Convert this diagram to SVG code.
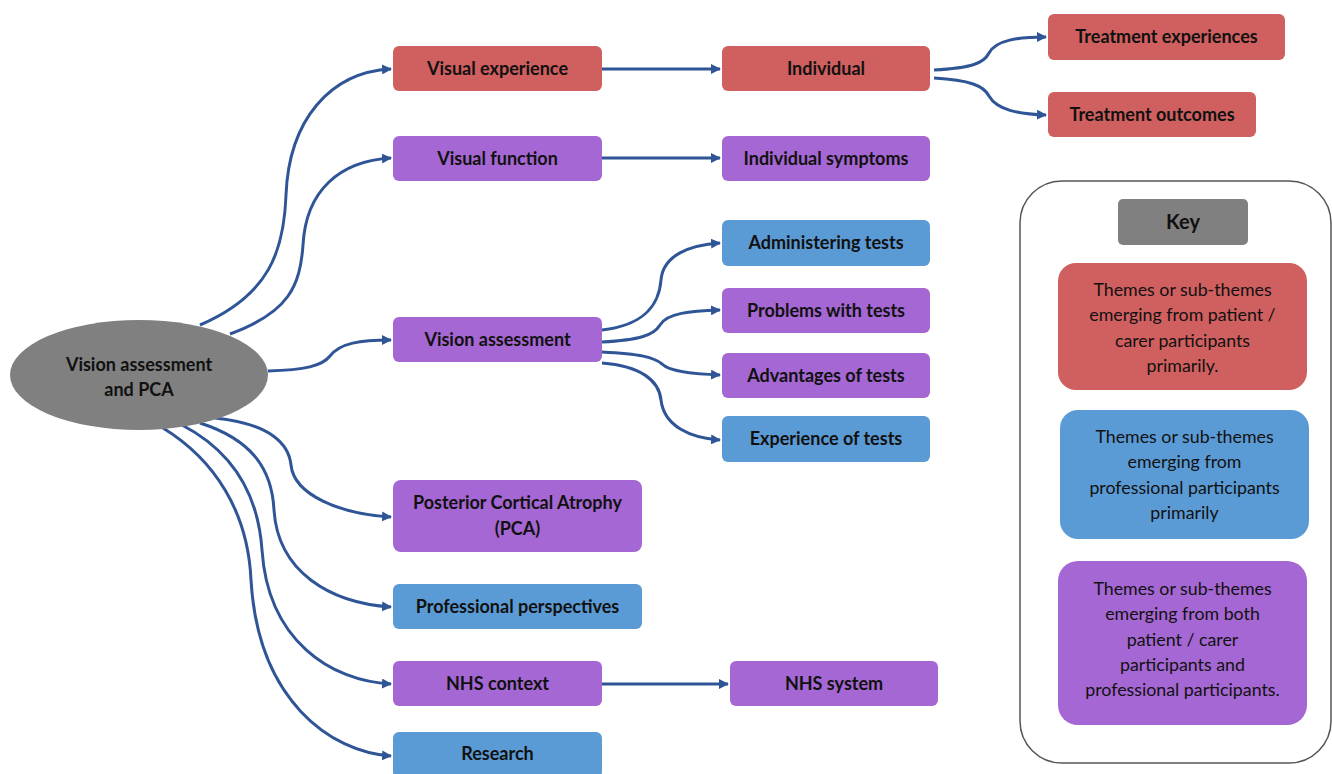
<svg xmlns="http://www.w3.org/2000/svg" width="1332" height="774" viewBox="0 0 1332 774">
<defs>
<marker id="ah" viewBox="0 0 10 10" refX="9" refY="5" markerWidth="10" markerHeight="10" markerUnits="userSpaceOnUse" orient="auto">
<path d="M0,0 L10,5 L0,10 z" fill="#2F5597"/>
</marker>
<style>
.red{fill:#D05F5F}
.pur{fill:#A567D3}
.blu{fill:#5B9BD5}
.gry{fill:#808080}
.lbl{font-family:Lato,"Open Sans","Liberation Sans",sans-serif;font-weight:bold;font-size:18px;fill:#111;text-anchor:middle;dominant-baseline:central}
.key{font-family:Lato,"Open Sans","Liberation Sans",sans-serif;font-size:17.8px;fill:#111;text-anchor:middle;dominant-baseline:central}
.con path{fill:none;stroke:#2F5597;stroke-width:3;marker-end:url(#ah)}
</style>
</defs>
<rect width="1332" height="774" fill="#fff"/>
<g class="con" id="connectors">
<path d="M200,325 C270,295 284,250 286,195 C289,120 330,72 391,69"/>
<path d="M230,334 C290,312 300,285 303,245 C306,190 340,161 391,158"/>
<path d="M268,371 C305,370 322,366 330,356 C340,343 360,340 391,340"/>
<path d="M215,418 C272,424 289,445 291,465 C294,495 340,514 391,517"/>
<path d="M200,423 C253,440 272,470 274,510 C278,572 330,603 391,607"/>
<path d="M182,425 C230,450 258,492 262,550 C268,640 330,681 391,684"/>
<path d="M163,428 C215,460 248,512 251,580 C258,700 330,752 391,756"/>
<path d="M602,69 L720,69"/>
<path d="M602,158 L720,158"/>
<path d="M602,684 L728,684"/>
<path d="M934,70 C972,68 984,63 989,53 C996,40 1018,37 1046,37"/>
<path d="M934,78 C970,80 984,86 989,96 C997,110 1018,114 1046,115"/>
<path d="M602,330 C645,325 659,305 661,280 C663,255 690,245 720,243"/>
<path d="M602,342 C640,340 654,335 660,325 C667,313 690,311 720,310"/>
<path d="M602,352 C640,354 654,357 662,364 C670,372 695,374 720,375"/>
<path d="M602,363 C640,366 659,380 661,400 C664,426 690,438 720,440"/>
</g>
<g id="n-root"><ellipse class="gry" cx="139" cy="375" rx="129" ry="55"/><text class="lbl" x="139" y="364">Vision assessment</text><text class="lbl" x="139" y="389">and PCA</text></g>
<g id="n-visexp"><rect class="red" x="393" y="46" width="209" height="45" rx="6"/><text class="lbl" x="497.5" y="67.5">Visual experience</text></g>
<g id="n-indiv"><rect class="red" x="722" y="46" width="208" height="45" rx="6"/><text class="lbl" x="826" y="67.5">Individual</text></g>
<g id="n-trexp"><rect class="red" x="1048" y="14" width="237" height="46" rx="6"/><text class="lbl" x="1166.5" y="36">Treatment experiences</text></g>
<g id="n-trout"><rect class="red" x="1048" y="92" width="208" height="45" rx="6"/><text class="lbl" x="1152" y="113.5">Treatment outcomes</text></g>
<g id="n-visfun"><rect class="pur" x="393" y="136" width="209" height="45" rx="6"/><text class="lbl" x="497.5" y="157.5">Visual function</text></g>
<g id="n-indsym"><rect class="pur" x="722" y="136" width="208" height="45" rx="6"/><text class="lbl" x="826" y="157.5">Individual symptoms</text></g>
<g id="n-admin"><rect class="blu" x="722" y="220" width="208" height="46" rx="6"/><text class="lbl" x="826" y="242">Administering tests</text></g>
<g id="n-prob"><rect class="pur" x="722" y="288" width="208" height="45" rx="6"/><text class="lbl" x="826" y="309.5">Problems with tests</text></g>
<g id="n-adv"><rect class="pur" x="722" y="353" width="208" height="45" rx="6"/><text class="lbl" x="826" y="374.5">Advantages of tests</text></g>
<g id="n-expt"><rect class="blu" x="722" y="416" width="208" height="46" rx="6"/><text class="lbl" x="826" y="438">Experience of tests</text></g>
<g id="n-visass"><rect class="pur" x="393" y="317" width="209" height="45" rx="6"/><text class="lbl" x="497.5" y="338.5">Vision assessment</text></g>
<g id="n-pca"><rect class="pur" x="393" y="480" width="249" height="72" rx="8"/><text class="lbl" x="517.5" y="502">Posterior Cortical Atrophy</text><text class="lbl" x="517.5" y="528">(PCA)</text></g>
<g id="n-prof"><rect class="blu" x="393" y="584" width="249" height="45" rx="6"/><text class="lbl" x="517.5" y="605.5">Professional perspectives</text></g>
<g id="n-nhsc"><rect class="pur" x="393" y="661" width="209" height="45" rx="6"/><text class="lbl" x="497.5" y="682.5">NHS context</text></g>
<g id="n-nhss"><rect class="pur" x="730" y="661" width="208" height="45" rx="6"/><text class="lbl" x="834" y="682.5">NHS system</text></g>
<g id="n-res"><rect class="blu" x="393" y="732" width="209" height="46" rx="6"/><text class="lbl" x="497.5" y="753">Research</text></g>
<g id="key">
<rect x="1020" y="181" width="311" height="582" rx="42" fill="none" stroke="#555" stroke-width="1.5"/>
<rect class="gry" x="1118" y="199" width="130" height="46" rx="5"/><text class="lbl" x="1183" y="221" style="font-size:20px">Key</text>
<rect class="red" x="1058" y="263" width="249" height="127" rx="18"/>
<text class="key" x="1182.5" y="289">Themes or sub-themes</text>
<text class="key" x="1182.5" y="314">emerging from patient /</text>
<text class="key" x="1182.5" y="340">carer participants</text>
<text class="key" x="1182.5" y="365">primarily.</text>
<rect class="blu" x="1060" y="410" width="249" height="129" rx="18"/>
<text class="key" x="1184.5" y="436">Themes or sub-themes</text>
<text class="key" x="1184.5" y="461">emerging from</text>
<text class="key" x="1184.5" y="487">professional participants</text>
<text class="key" x="1184.5" y="512">primarily</text>
<rect class="pur" x="1058" y="561" width="249" height="164" rx="20"/>
<text class="key" x="1182.5" y="588">Themes or sub-themes</text>
<text class="key" x="1182.5" y="613">emerging from both</text>
<text class="key" x="1182.5" y="639">patient / carer</text>
<text class="key" x="1182.5" y="664">participants and</text>
<text class="key" x="1182.5" y="689">professional participants.</text>
</g>
</svg>
